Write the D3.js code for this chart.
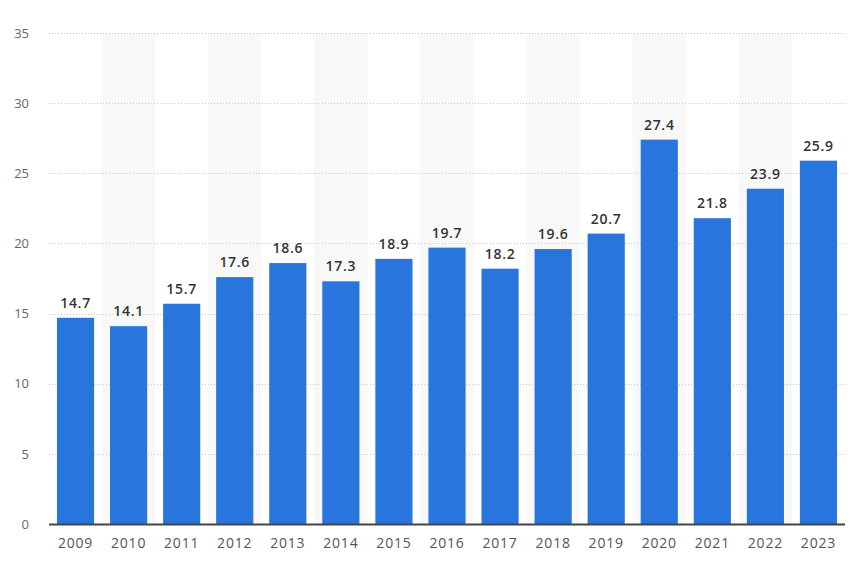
<!DOCTYPE html>
<html><head><meta charset="utf-8">
<script src="https://cdn.jsdelivr.net/npm/d3@7"></script>
<style>body{margin:0;background:#fff;} text{font-family:"Open Sans",sans-serif;}</style>
</head><body><svg id="c" width="862" height="573"></svg>
<script>
const years = ["2009","2010","2011","2012","2013","2014","2015","2016","2017","2018","2019","2020","2021","2022","2023"];
const values = [14.7,14.1,15.7,17.6,18.6,17.3,18.9,19.7,18.2,19.6,20.7,27.4,21.8,23.9,25.9];
const yTicks = [0,5,10,15,20,25,30,35];

const svg = d3.select("#c");
const mLeft = 49, mRight = 845, mTop = 33, mBottom = 524;
const x = d3.scaleBand().domain(years).range([mLeft, mRight]).paddingInner(0.3).paddingOuter(0.15);
const y = d3.scaleLinear().domain([0, 35]).range([mBottom, mTop]);

// alternating bands
const step = x.step();
svg.append("g").selectAll("rect").data(years.filter((d,i)=>i%2===1)).join("rect")
  .attr("x", d => x(d) + x.bandwidth()/2 - step/2)
  .attr("width", step)
  .attr("y", mTop).attr("height", mBottom - mTop)
  .attr("fill", "#f8f8f8");

// gridlines
svg.append("g").selectAll("line").data(yTicks.filter(t=>t>0)).join("line")
  .attr("x1", mLeft).attr("x2", mRight)
  .attr("y1", d => Math.round(y(d))+0.5).attr("y2", d => Math.round(y(d))+0.5)
  .attr("stroke", "#c8c8c8").attr("stroke-dasharray", "1,2");

// y axis labels
const yAxis = d3.axisLeft(y).tickValues(yTicks).tickSize(0).tickPadding(0);
const gy = svg.append("g").attr("transform", `translate(29,0)`).call(yAxis);
gy.select(".domain").remove();
gy.selectAll("text").attr("fill", "#666").attr("font-size", "13px");

// bars
svg.append("g").selectAll("rect").data(years).join("rect")
  .attr("x", d => x(d)).attr("width", x.bandwidth())
  .attr("y", (d,i) => y(values[i])).attr("height", (d,i) => y(0) - y(values[i]))
  .attr("fill", "#2876dd");

// value labels
svg.append("g").selectAll("text").data(years).join("text")
  .attr("x", d => x(d) + x.bandwidth()/2)
  .attr("y", (d,i) => y(values[i]) - 10)
  .attr("text-anchor", "middle")
  .attr("font-size", "14px").attr("font-weight", "600").attr("fill", "#333")
  .attr("letter-spacing", "0.7px")
  .text((d,i) => values[i].toFixed(1));

// x axis
const xAxis = d3.axisBottom(x).tickSize(0).tickPadding(14);
const gx = svg.append("g").attr("transform", `translate(0,${mBottom})`).call(xAxis);
gx.select(".domain").remove();
gx.selectAll("text").attr("fill", "#555").attr("font-size", "14px").attr("letter-spacing", "0.8px");
svg.append("line").attr("x1", mLeft).attr("x2", mRight).attr("y1", mBottom+0.5).attr("y2", mBottom+0.5)
  .attr("stroke", "#444").attr("stroke-width", 2);
</script></body></html>
